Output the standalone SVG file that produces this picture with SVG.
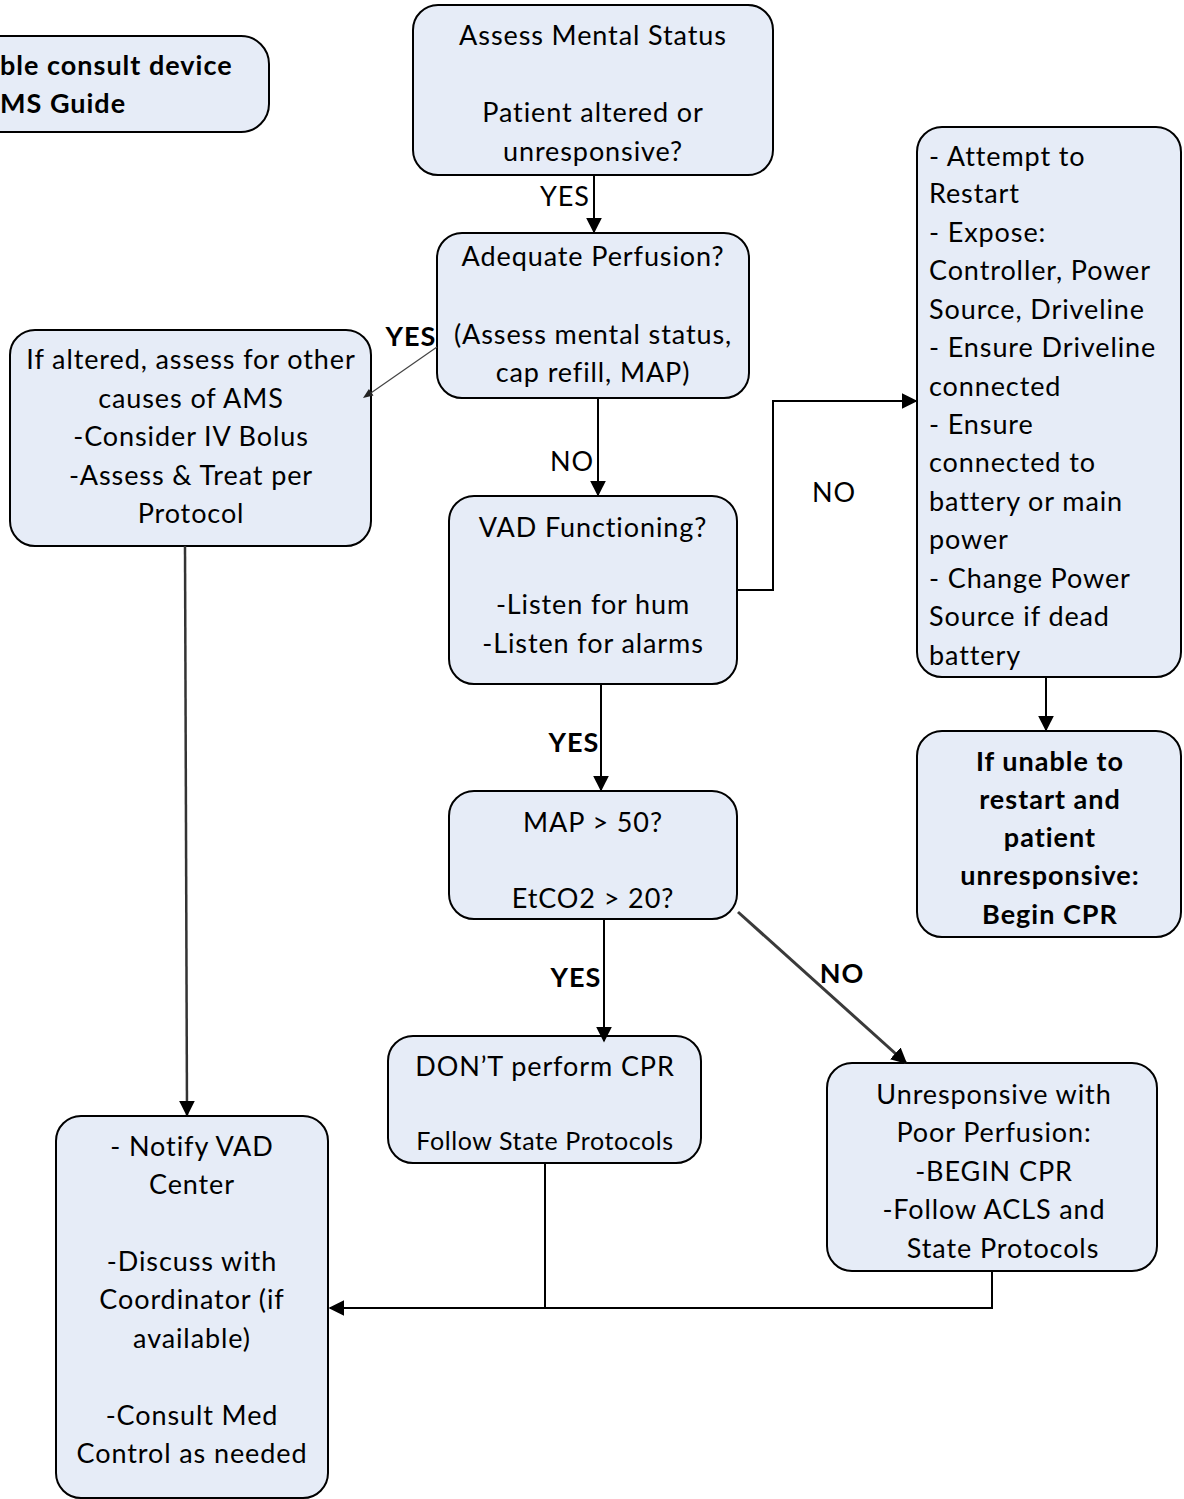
<svg xmlns="http://www.w3.org/2000/svg" width="1184" height="1499" viewBox="0 0 1184 1499">
<defs>
<style>
.box{fill:#e6ecf7;stroke:#000;stroke-width:2}
text{font-family:Lato,"Liberation Sans",sans-serif;font-size:27px;letter-spacing:0.9px;fill:#000}
.c{text-anchor:middle}
.b{font-weight:bold;letter-spacing:1px}
.ln{fill:none;stroke:#000;stroke-width:2}
</style>
<marker id="ah2" viewBox="0 0 10 10" refX="9" refY="5" markerWidth="16" markerHeight="16" markerUnits="userSpaceOnUse" orient="auto"><path d="M0,0 L10,5 L0,10 z" fill="#000"/></marker>
</defs>
<rect width="1184" height="1499" fill="#fff"/>

<g id="node-consult">
<rect class="box" x="-30" y="36" width="299" height="96" rx="28"/>
<text class="b" x="0" y="75">ble consult device</text>
<text class="b" x="0" y="113">MS Guide</text>
</g>

<g id="node-assess">
<rect class="box" x="413" y="5" width="360" height="170" rx="25"/>
<text class="c" x="593" y="45">Assess Mental Status</text>
<text class="c" x="593" y="122">Patient altered or</text>
<text class="c" x="593" y="161">unresponsive?</text>
</g>

<g id="node-perfusion">
<rect class="box" x="437" y="233" width="312" height="165" rx="25"/>
<text class="c" x="593" y="266">Adequate Perfusion?</text>
<text class="c" x="593" y="344">(Assess mental status,</text>
<text class="c" x="593" y="382">cap refill, MAP)</text>
</g>

<g id="node-altered">
<rect class="box" x="10" y="330" width="361" height="216" rx="25"/>
<text class="c" x="191" y="369">If altered, assess for other</text>
<text class="c" x="191" y="408">causes of AMS</text>
<text class="c" x="191" y="446">-Consider IV Bolus</text>
<text class="c" x="191" y="485">-Assess &amp; Treat per</text>
<text class="c" x="191" y="523">Protocol</text>
</g>

<g id="node-vad">
<rect class="box" x="449" y="496" width="288" height="188" rx="25"/>
<text class="c" x="593" y="537">VAD Functioning?</text>
<text class="c" x="593" y="614">-Listen for hum</text>
<text class="c" x="593" y="653">-Listen for alarms</text>
</g>

<g id="node-restart">
<rect class="box" x="917" y="127" width="264" height="550" rx="25"/>
<text x="929" y="166">- Attempt to</text>
<text x="929" y="203">Restart</text>
<text x="929" y="242">- Expose:</text>
<text x="929" y="280">Controller, Power</text>
<text x="929" y="319">Source, Driveline</text>
<text x="929" y="357">- Ensure Driveline</text>
<text x="929" y="396">connected</text>
<text x="929" y="434">- Ensure</text>
<text x="929" y="472">connected to</text>
<text x="929" y="511">battery or main</text>
<text x="929" y="549">power</text>
<text x="929" y="588">- Change Power</text>
<text x="929" y="626">Source if dead</text>
<text x="929" y="665">battery</text>
</g>

<g id="node-unable">
<rect class="box" x="917" y="731" width="264" height="206" rx="25"/>
<text class="c b" x="1050" y="771">If unable to</text>
<text class="c b" x="1050" y="809">restart and</text>
<text class="c b" x="1050" y="847">patient</text>
<text class="c b" x="1050" y="885">unresponsive:</text>
<text class="c b" x="1050" y="924">Begin CPR</text>
</g>

<g id="node-map">
<rect class="box" x="449" y="791" width="288" height="128" rx="25"/>
<text class="c" x="593" y="832">MAP &gt; 50?</text>
<text class="c" x="593" y="908">EtCO2 &gt; 20?</text>
</g>

<g id="node-dont">
<rect class="box" x="388" y="1036" width="313" height="127" rx="25"/>
<text class="c" x="545" y="1076">DON’T perform CPR</text>
<text class="c" x="545" y="1150" style="font-size:25px;letter-spacing:0.6px">Follow State Protocols</text>
</g>

<g id="node-unresponsive">
<rect class="box" x="827" y="1063" width="330" height="208" rx="25"/>
<text class="c" x="994" y="1104">Unresponsive with</text>
<text class="c" x="994" y="1142">Poor Perfusion:</text>
<text class="c" x="994" y="1181">-BEGIN CPR</text>
<text class="c" x="994" y="1219">-Follow ACLS and</text>
<text class="c" x="1003" y="1258">State Protocols</text>
</g>

<g id="node-notify">
<rect class="box" x="56" y="1116" width="272" height="382" rx="25"/>
<text class="c" x="192" y="1156">- Notify VAD</text>
<text class="c" x="192" y="1194">Center</text>
<text class="c" x="192" y="1271">-Discuss with</text>
<text class="c" x="192" y="1309">Coordinator (if</text>
<text class="c" x="192" y="1348">available)</text>
<text class="c" x="192" y="1425">-Consult Med</text>
<text class="c" x="192" y="1463">Control as needed</text>
</g>

<g id="connectors">
<line class="ln" x1="594" y1="175" x2="594" y2="232" marker-end="url(#ah2)"/>
<line x1="437" y1="347" x2="368" y2="395" stroke="#444" stroke-width="1.3"/>
<polygon points="363,398 373.5,395.6 368.9,389.0" fill="#222"/>
<line class="ln" x1="598" y1="398" x2="598" y2="495" marker-end="url(#ah2)"/>
<polyline class="ln" points="737,590 773,590 773,401 916,401" marker-end="url(#ah2)"/>
<line class="ln" x1="1046" y1="677" x2="1046" y2="730" marker-end="url(#ah2)"/>
<line class="ln" x1="601" y1="684" x2="601" y2="790" marker-end="url(#ah2)"/>
<line class="ln" x1="604" y1="919" x2="604" y2="1041" marker-end="url(#ah2)"/>
<line x1="738" y1="912" x2="906" y2="1063" stroke="#3a3a3a" stroke-width="3" marker-end="url(#ah2)"/>
<line x1="185" y1="546" x2="187" y2="1115" stroke="#333" stroke-width="2.5" marker-end="url(#ah2)"/>
<polyline class="ln" points="545,1163 545,1308"/>
<polyline class="ln" points="992,1271 992,1308 330,1308" marker-end="url(#ah2)"/>
<text class="c" x="565" y="206">YES</text>
<text class="c b" x="411" y="346">YES</text>
<text class="c" x="572" y="471">NO</text>
<text class="c" x="834" y="502">NO</text>
<text class="c b" x="574" y="752">YES</text>
<text class="c b" x="576" y="987">YES</text>
<text class="c b" x="842" y="983">NO</text>
</g>
</svg>
